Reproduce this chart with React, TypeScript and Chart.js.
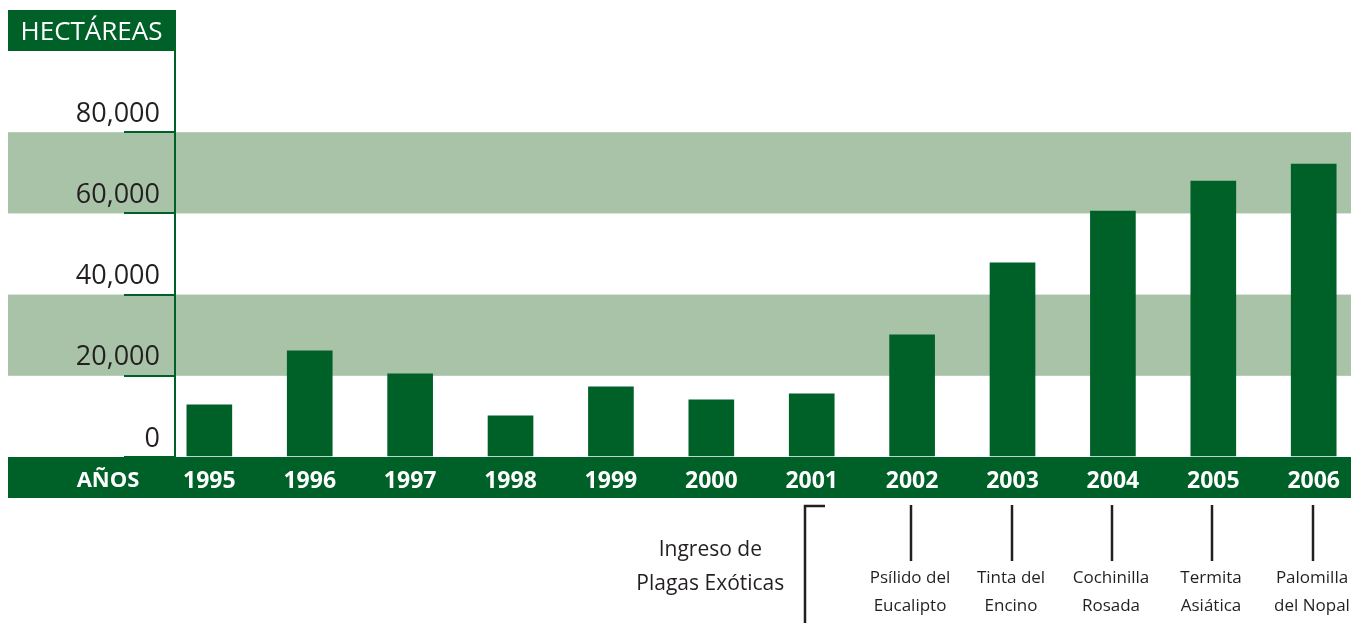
import React, { useEffect, useRef } from "react";
import { Chart, registerables } from "chart.js";

Chart.register(...registerables);

const years = [1995, 1996, 1997, 1998, 1999, 2000, 2001, 2002, 2003, 2004, 2005, 2006];
const hectares = [12870, 26150, 20490, 10160, 17290, 14100, 15570, 30090, 47800, 60590, 67970, 72150];
const yTickValues = [0, 20000, 40000, 60000, 80000];
const bandLows = [20000, 60000];
const bandHighs = [40000, 80000];
const plagueYears = [2002, 2003, 2004, 2005, 2006];
const plagueNames = [
  ["Psílido del", "Eucalipto"],
  ["Tinta del", "Encino"],
  ["Cochinilla", "Rosada"],
  ["Termita", "Asiática"],
  ["Palomilla", "del Nopal"],
];
const groupStartYear = 2001;
const groupCenterYear = 2000;
const groupLabel = ["Ingreso de", "Plagas Exóticas"];
const yTitle = "HECTÁREAS";
const xTitle = "AÑOS";

const GREEN = "#006128";
const BAND = "#a8c3a8";
const INK = "#231f20";
const FONT = "'Open Sans', 'Noto Sans', sans-serif";

const decorPlugin = {
  id: "decor",
  beforeDraw(chart: any) {
    const { ctx, chartArea, width } = chart;
    const ys = chart.scales.y;
    ctx.save();
    ctx.fillStyle = BAND;
    bandLows.forEach((lo, i) => {
      const yTop = ys.getPixelForValue(bandHighs[i]);
      const yBot = ys.getPixelForValue(lo);
      ctx.fillRect(8, yTop, width - 8, yBot - yTop);
    });
    ctx.fillStyle = GREEN;
    ctx.fillRect(8, chartArea.bottom, width - 8, 41);
    ctx.fillRect(8, 10, chartArea.left - 7, chartArea.top - 10);
    ctx.fillStyle = "#ffffff";
    ctx.textAlign = "center";
    ctx.textBaseline = "middle";
    ctx.font = `26px ${FONT}`;
    ctx.fillText(yTitle, (8 + chartArea.left) / 2, (10 + chartArea.top) / 2 + 2);
    ctx.font = `bold 22px ${FONT}`;
    ctx.fillText(xTitle, 108, chartArea.bottom + 24);
    ctx.restore();
  },
  afterDraw(chart: any) {
    const { ctx, chartArea, height } = chart;
    const xs = chart.scales.x;
    const b = chartArea.bottom;
    ctx.save();
    ctx.strokeStyle = INK;
    ctx.fillStyle = INK;
    ctx.lineWidth = 2.5;
    ctx.textAlign = "center";
    ctx.textBaseline = "middle";
    ctx.font = `17px ${FONT}`;
    plagueYears.forEach((yr, i) => {
      const x = Math.round(xs.getPixelForValue(yr)) - 1;
      ctx.beginPath();
      ctx.moveTo(x, b + 48);
      ctx.lineTo(x, b + 104);
      ctx.stroke();
      plagueNames[i].forEach((t, j) => {
        ctx.fillText(t, x - 1, b + 121 + j * 28);
      });
    });
    const bx = Math.round(xs.getPixelForValue(groupStartYear)) - 7;
    ctx.beginPath();
    ctx.moveTo(bx, height);
    ctx.lineTo(bx, b + 49);
    ctx.lineTo(bx + 20, b + 49);
    ctx.stroke();
    ctx.font = `21px ${FONT}`;
    const gx = xs.getPixelForValue(groupCenterYear) - 1;
    groupLabel.forEach((t, j) => {
      ctx.fillText(t, gx, b + 93 + j * 34);
    });
    ctx.restore();
  },
};

export default function App() {
  const ref = useRef<HTMLCanvasElement | null>(null);
  useEffect(() => {
    document.body.style.margin = "0";
    document.body.style.overflow = "hidden";
    if (!ref.current) return;
    const chart = new Chart(ref.current, {
      type: "bar",
      data: {
        datasets: [
          {
            data: years.map((yr, i) => ({ x: yr, y: hectares[i] })),
            backgroundColor: GREEN,
            barThickness: 45,
            borderWidth: 0,
          },
        ],
      },
      options: {
        animation: false,
        responsive: true,
        maintainAspectRatio: false,
        layout: { padding: { top: 51, left: 0, right: 0, bottom: 0 } },
        plugins: { legend: { display: false }, tooltip: { enabled: false } },
        scales: {
          x: {
            type: "linear",
            offset: false,
            min: 1994.658,
            max: 2006.3325,
            grid: { display: false, drawTicks: false, offset: false },
            border: { display: false },
            afterBuildTicks: (s: any) => {
              s.ticks = years.map((v) => ({ value: v }));
            },
            afterFit: (s: any) => {
              s.height = 166;
            },
            ticks: {
              autoSkip: false,
              maxRotation: 0,
              padding: 11,
              color: "#ffffff",
              font: { family: FONT, size: 23, weight: "bold" },
              callback: (v: any) => String(v),
            },
          },
          y: {
            min: 0,
            max: 100000,
            afterBuildTicks: (s: any) => {
              s.ticks = yTickValues.map((v) => ({ value: v }));
            },
            afterFit: (s: any) => {
              s.width = 175;
            },
            grid: {
              drawOnChartArea: false,
              drawTicks: true,
              tickLength: 51,
              color: GREEN,
              lineWidth: 2,
            },
            border: { display: true, color: GREEN, width: 2 },
            ticks: {
              padding: -36,
              labelOffset: -18,
              color: INK,
              font: { family: FONT, size: 27 },
              callback: (v: any) => Number(v).toLocaleString("en-US"),
            },
          },
        },
      },
      plugins: [decorPlugin],
    } as any);
    return () => chart.destroy();
  }, []);
  return (
    <div style={{ position: "relative", width: 1351, height: 623 }}>
      <canvas ref={ref} />
    </div>
  );
}
